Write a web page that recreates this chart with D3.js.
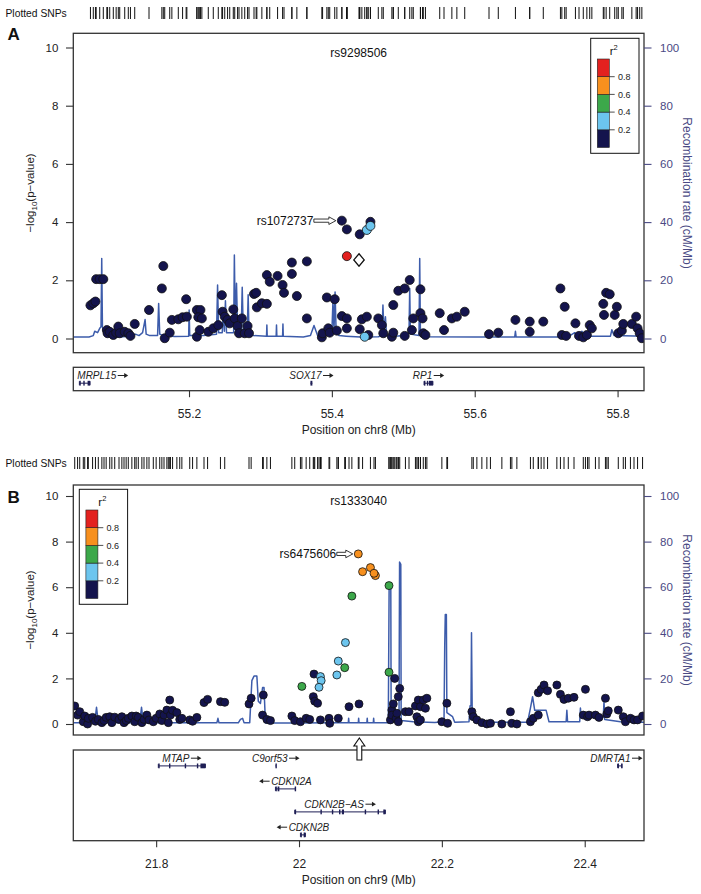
<!DOCTYPE html>
<html><head><meta charset="utf-8">
<script src="https://cdn.jsdelivr.net/npm/d3@7"></script>
<style>
body{margin:0;background:#fff;}
svg{display:block;}
</style></head><body>
<svg id="chart" width="701" height="894"></svg>
<script>
// ---------------- DATA ----------------
// r2 legend bins and colours
const r2Bins = [0.2, 0.4, 0.6, 0.8];
const r2Colors = ["#14144d", "#6cc5ee", "#3ca84a", "#f7901e", "#e3211f"];
const yTicks = [0, 2, 4, 6, 8, 10];
const recTicks = [0, 20, 40, 60, 80, 100];
const xTicksA = [55.2, 55.4, 55.6, 55.8];
const xTicksB = [21.8, 22.0, 22.2, 22.4];

// Panel A SNPs: [position (Mb), -log10 p, r2]
const snpsA = [
[55.062,1.14,.1],[55.066,1.21,.1],[55.069,1.27,.1],[55.070,2.04,.1],[55.075,2.04,.1],[55.080,2.04,.1],
[55.085,0.29,.1],[55.086,0.18,.1],[55.089,0.23,.1],[55.094,0.12,.1],[55.098,0.20,.1],[55.101,0.41,.1],[55.103,0.18,.1],[55.110,0.23,.1],[55.115,0.18,.1],[55.118,0.09,.1],[55.124,0.50,.1],
[55.144,0.98,.1],[55.162,1.72,.1],[55.164,2.49,.1],[55.166,0.01,.1],[55.173,0.20,.1],[55.176,0.64,.1],
[55.185,0.66,.1],[55.191,0.73,.1],[55.196,1.35,.1],[55.197,0.75,.1],
[55.211,0.06,.1],[55.211,0.98,.1],[55.216,0.98,.1],[55.213,0.73,.1],[55.218,0.69,.1],[55.215,0.29,.1],
[55.227,0.23,.1],[55.234,0.35,.1],[55.241,0.46,.1],[55.246,1.49,.1],[55.247,0.92,.1],[55.250,0.75,.1],[55.254,0.64,.1],[55.257,0.52,.1],[55.262,1.00,.1],[55.264,0.69,.1],[55.268,0.43,.1],[55.270,0.18,.1],[55.274,0.69,.1],[55.278,0.18,.1],[55.282,0.43,.1],[55.284,0.18,.1],
[55.291,1.53,.1],[55.294,1.57,.1],[55.295,1.07,.1],[55.302,1.21,.1],[55.309,1.19,.1],[55.309,2.18,.1],[55.313,1.95,.1],[55.324,2.15,.1],[55.331,1.84,.1],[55.333,1.57,.1],[55.344,2.61,.1],[55.344,2.22,.1],[55.351,1.46,.1],[55.365,2.65,.1],[55.365,0.69,.1],
[55.386,0.04,.1],[55.387,0.18,.1],[55.393,1.41,.1],[55.395,0.35,.1],[55.397,0.20,.1],[55.404,1.35,.1],[55.407,0.27,.1],[55.414,0.77,.1],[55.421,0.69,.1],[55.421,0.35,.1],
[55.414,4.05,.1],[55.421,3.75,.1],[55.421,2.83,.85],
[55.439,3.58,.1],[55.449,3.73,.3],[55.454,3.87,.3],[55.454,4.01,.1],
[55.442,0.66,.1],[55.449,0.75,.1],[55.439,0.32,.1],[55.446,0.06,.3],[55.451,0.12,.1],
[55.465,0.69,.1],[55.470,0.46,.1],[55.472,0.18,.1],[55.484,0.06,.1],[55.486,0.20,.1],[55.486,1.15,.1],[55.493,1.64,.1],[55.502,1.72,.1],[55.502,0.09,.1],[55.509,2.01,.1],[55.512,0.29,.1],[55.514,0.69,.1],[55.524,1.69,.1],[55.524,0.87,.1],[55.527,0.69,.1],[55.528,0.18,.1],[55.531,0.12,.1],
[55.551,0.87,.1],[55.557,0.29,.1],[55.568,0.69,.1],[55.575,0.75,.1],[55.586,0.92,.1],
[55.620,0.15,.1],[55.633,0.20,.1],[55.657,0.64,.1],[55.677,0.58,.1],[55.677,0.23,.1],[55.696,0.58,.1],
[55.720,1.72,.1],[55.726,1.09,.1],[55.722,0.12,.1],[55.728,0.09,.1],[55.741,0.52,.1],[55.746,0.09,.1],[55.752,0.04,.1],[55.757,0.12,.1],[55.761,0.46,.1],[55.764,0.35,.1],[55.780,1.19,.1],[55.781,0.81,.1],[55.784,1.57,.1],[55.789,1.52,.1],[55.796,0.81,.1],[55.799,1.09,.1],[55.801,0.18,.1],[55.806,0.27,.1],[55.808,0.50,.1],[55.820,0.50,.1],[55.826,0.75,.1],[55.828,0.35,.1],[55.831,0.18,.1],[55.834,0.01,.1]
];
// Recombination rate A: [position, cM/Mb]
const recombA = [
[55.038,0.5],[55.060,0.5],[55.066,1.0],[55.068,2.5],[55.072,2.0],[55.075,3.5],[55.0768,4.0],[55.0778,27.5],[55.0788,4.0],[55.081,1.5],[55.085,0.6],[55.100,0.5],[55.120,0.8],[55.125,1.5],[55.130,1.0],[55.135,2.0],[55.1385,6.5],[55.140,1.5],[55.145,1.0],[55.156,1.0],[55.1575,12.0],[55.159,1.5],[55.165,1.0],[55.180,0.7],[55.1995,0.8],[55.2002,9.8],[55.201,1.0],[55.220,1.0],[55.2385,1.5],[55.240,18.4],[55.2415,2.0],[55.2465,2.0],[55.248,10.0],[55.2495,2.5],[55.251,13.0],[55.2525,2.0],[55.2625,2.0],[55.2635,28.7],[55.2648,3.0],[55.2665,19.0],[55.268,3.0],[55.273,2.0],[55.2745,17.6],[55.276,2.0],[55.2815,2.0],[55.2828,15.0],[55.284,2.0],[55.290,1.0],[55.3085,0.8],[55.309,4.6],[55.3095,0.8],[55.322,0.8],[55.3225,4.6],[55.323,0.8],[55.331,0.8],[55.3315,5.0],[55.332,0.8],[55.360,0.5],[55.370,1.0],[55.375,4.5],[55.380,1.0],[55.390,0.8],[55.395,1.5],[55.400,2.0],[55.4015,12.7],[55.403,3.0],[55.4045,16.0],[55.406,2.0],[55.410,1.0],[55.420,0.8],[55.440,0.5],[55.465,0.6],[55.470,1.0],[55.4715,11.5],[55.473,2.0],[55.475,7.5],[55.4765,1.0],[55.480,0.7],[55.505,1.0],[55.508,2.0],[55.509,17.2],[55.510,1.5],[55.522,1.0],[55.523,27.5],[55.524,1.5],[55.530,0.6],[55.600,0.5],[55.656,0.5],[55.657,2.5],[55.658,0.5],[55.730,0.5],[55.740,2.0],[55.745,1.0],[55.750,2.5],[55.755,1.0],[55.760,0.8],[55.790,0.8],[55.792,3.0],[55.795,1.0],[55.837,0.8]
];
// Genes A: [name, start, end, strand, row, exons]
const genesA = [
["MRPL15",55.0465,55.0615,"+",0,[[55.0465,55.0475],[55.052,55.053],[55.058,55.0615]]],
["SOX17",55.3700,55.3727,"+",0,[[55.3700,55.3727]]],
["RP1",55.5290,55.5415,"+",0,[[55.529,55.5302],[55.533,55.5345],[55.536,55.5415]]]
];
const leadA = {name:"rs9298506", pos:55.438, logp:2.70};
const labelA = {name:"rs1072737", pos:55.414, logp:4.05};

// Panel B SNPs
const snpsB = [
[21.686,0.79,.1],[21.690,0.39,.1],[21.693,0.54,.1],[21.698,0.10,.1],[21.700,0.35,.1],[21.704,0.00,.1],[21.705,0.25,.1],[21.711,0.29,.1],[21.715,0.12,.1],[21.719,0.20,.1],[21.724,0.06,.1],[21.727,0.15,.1],[21.730,0.29,.1],[21.735,0.32,.1],[21.738,0.06,.1],[21.742,0.30,.1],[21.748,0.20,.1],[21.752,0.32,.1],[21.755,0.06,.1],[21.758,0.15,.1],[21.761,0.25,.1],[21.766,0.35,.1],[21.770,0.10,.1],[21.772,0.35,.1],[21.775,0.29,.1],[21.780,0.06,.1],[21.783,0.20,.1],[21.787,0.39,.1],[21.790,0.18,.1],[21.796,0.10,.1],[21.800,0.25,.1],[21.805,0.44,.1],[21.808,0.15,.1],[21.811,0.39,.1],[21.815,0.61,.1],[21.817,0.06,.1],[21.819,1.05,.1],[21.820,0.39,.1],[21.823,0.60,.1],[21.829,0.50,.1],[21.833,0.20,.1],[21.836,0.25,.1],[21.847,0.18,.1],[21.851,0.12,.1],[21.857,0.29,.1],[21.867,0.94,.1],[21.872,1.08,.1],[21.890,0.98,.1],[21.896,0.95,.1],
[21.930,0.88,.1],[21.933,1.13,.1],[21.949,0.39,.1],[21.950,1.27,.1],[21.955,0.20,.1],[21.960,0.15,.1],[21.990,0.35,.1],[21.994,0.15,.1],[22.002,0.10,.1],[22.010,0.25,.1],[22.015,0.20,.1],[22.020,1.20,.1],[22.021,2.19,.1],[22.022,1.00,.1],[22.026,0.91,.1],[22.030,0.18,.1],[22.042,0.25,.1],[22.043,0.03,.1],[22.055,0.25,.1],[22.070,0.76,.1],[22.084,0.88,.1],
[22.004,1.65,.5],[22.030,2.08,.3],[22.031,1.90,.3],[22.028,1.61,.3],[22.053,2.15,.3],[22.055,2.76,.3],[22.065,3.57,.3],[22.064,2.47,.5],[22.074,5.61,.5],[22.126,6.07,.5],[22.126,2.27,.5],
[22.083,7.46,.7],[22.089,6.68,.7],[22.100,6.86,.7],[22.105,6.61,.7],[22.107,6.51,.65],
[22.128,0.18,.1],[22.130,0.61,.1],[22.130,0.39,.1],[22.132,0.88,.1],[22.134,2.00,.1],[22.136,0.25,.1],[22.137,0.47,.1],[22.139,1.20,.1],[22.139,0.10,.1],[22.141,1.56,.1],
[22.149,0.54,.1],[22.154,0.54,.1],[22.163,0.79,.1],[22.165,0.32,.1],[22.167,1.05,.1],[22.167,0.10,.1],[22.170,0.76,.1],[22.170,0.18,.1],[22.174,1.05,.1],[22.177,0.69,.1],[22.179,1.13,.1],
[22.200,0.10,.1],[22.207,0.91,.1],[22.208,0.03,.1],
[22.242,0.54,.1],[22.244,0.32,.1],[22.249,0.18,.1],[22.256,0.06,.1],[22.263,0.00,.1],[22.268,0.03,.1],
[22.284,0.00,.1],[22.296,0.54,.1],[22.298,0.03,.1],[22.305,0.00,.1],
[22.324,0.10,.1],[22.328,0.25,.1],[22.335,0.39,.1],[22.335,1.37,.1],[22.339,1.52,.1],[22.343,1.71,.1],[22.348,1.46,.1],[22.361,1.71,.1],[22.366,1.30,.1],[22.371,1.08,.1],[22.377,1.13,.1],[22.385,1.17,.1],
[22.398,0.39,.1],[22.401,1.52,.1],[22.404,0.32,.1],[22.406,0.39,.1],[22.415,0.39,.1],[22.420,0.29,.1],
[22.429,1.13,.1],[22.431,0.44,.1],[22.433,0.58,.1],
[22.447,0.61,.1],[22.454,0.32,.1],[22.457,0.10,.1],[22.464,0.25,.1],[22.469,0.18,.1],[22.474,0.18,.1],[22.481,0.35,.1]
];
const recombB = [
[21.684,0.6],[21.714,0.6],[21.7165,7.3],[21.719,0.6],[21.777,0.6],[21.7795,7.3],[21.782,0.6],[21.800,0.5],[21.885,0.5],[21.8865,2.5],[21.888,0.5],[21.915,0.5],[21.918,2.0],[21.921,2.5],[21.923,0.6],[21.931,0.6],[21.934,19],[21.937,21],[21.941,21],[21.943,10],[21.946,9],[21.949,16],[21.951,16],[21.953,0.4],[21.990,0.4],[22.050,0.5],[22.069,0.5],[22.0695,2.5],[22.070,0.5],[22.083,0.5],[22.0835,2.5],[22.084,0.5],[22.095,0.5],[22.0955,2.5],[22.096,0.5],[22.104,0.5],[22.1045,2.5],[22.105,0.5],[22.125,0.6],[22.1262,62],[22.1285,61],[22.129,1.0],[22.140,1.0],[22.1408,71],[22.1425,70],[22.143,1.5],[22.160,1.0],[22.190,0.7],[22.203,1.0],[22.204,34],[22.2048,48],[22.2063,48],[22.207,5],[22.215,3.2],[22.218,0.8],[22.238,1.0],[22.2395,8],[22.2408,8],[22.2415,40],[22.2425,5],[22.248,3],[22.250,0.8],[22.320,0.8],[22.324,7],[22.327,12],[22.330,6],[22.346,6],[22.350,1.0],[22.374,1.0],[22.375,6],[22.376,1.0],[22.393,1.0],[22.394,7],[22.395,3],[22.420,3],[22.426,3],[22.427,10],[22.428,2],[22.450,1.0],[22.483,0.8]
];
const genesB = [
["MTAP",21.803,21.869,"+",0,[[21.803,21.8035],[21.818,21.8195],[21.840,21.841],[21.857,21.858],[21.862,21.869]]],
["C9orf53",21.967,21.968,"+",0,[[21.967,21.968]]],
["DMRTA1",22.446,22.452,"+",0,[[22.446,22.447],[22.451,22.452]]],
["CDKN2A",21.967,21.995,"-",1,[[21.967,21.9685],[21.970,21.9725],[21.994,21.995]]],
["CDKN2B\u2212AS",21.994,22.121,"+",2,[[21.994,21.995],[22.030,22.031],[22.046,22.047],[22.056,22.058],[22.060,22.063],[22.092,22.093],[22.110,22.111],[22.118,22.121]]],
["CDKN2B",22.002,22.009,"-",3,[[22.002,22.004],[22.0065,22.009]]]
];
const leadB = {name:"rs1333040", pos:22.0845, logp:null};
const labelB = {name:"rs6475606", pos:22.083, logp:7.46};

// ---------------- DRAWING ----------------
const FONT = '"Liberation Sans", Arial, Helvetica, sans-serif';
const REC = "#3d5cab";
const RAX = "#4a4a84";
const svg = d3.select("#chart").attr("font-family", FONT);
const defs = svg.append("defs");
const r2Color = d3.scaleThreshold().domain(r2Bins).range(r2Colors);

const panels = [
 {letter:"A", chr:"chr8", snps:snpsA, recomb:recombA, genes:genesA, lead:leadA, label:labelA,
  domainX:[55.038,55.837], ticksX:xTicksA,
  geo:{left:73.3,right:644,top:33.3,bottom:352.7,y0:338.5,y10:47.5,geneTop:367.3,geneBottom:390.7,
       rugTop:7,rugBottom:19,letterBase:40,legendX:590.7,legendY:38.3,r:4.5,arrowLen:22,titleBase:57}},
 {letter:"B", chr:"chr9", snps:snpsB, recomb:recombB, genes:genesB, lead:leadB, label:labelB,
  domainX:[21.684,22.483], ticksX:xTicksB,
  geo:{left:73.3,right:644,top:485,bottom:735,y0:724,y10:496,geneTop:750,geneBottom:840.7,
       rugTop:457,rugBottom:469,letterBase:503,legendX:79.3,legendY:489.3,r:4,arrowLen:16,titleBase:505}}
];

function hollowArrowH(x0, x1, yc){
  return `M${x0},${yc-1.6}L${x1-7},${yc-1.6}L${x1-7},${yc-3.8}L${x1},${yc}L${x1-7},${yc+3.8}L${x1-7},${yc+1.6}L${x0},${yc+1.6}Z`;
}
function hollowArrowUp(xc, tip){
  return `M${xc},${tip}L${xc+5.5},${tip+8}L${xc+2.4},${tip+8}L${xc+2.4},${tip+22}L${xc-2.4},${tip+22}L${xc-2.4},${tip+8}L${xc-5.5},${tip+8}Z`;
}

function drawLegend(parent, lx, ly){
  const gL = parent.append("g");
  gL.append("rect").attr("x",lx).attr("y",ly).attr("width",48.3).attr("height",115)
    .attr("fill","#fff").attr("stroke","#111").attr("stroke-width",1);
  const t = gL.append("text").attr("x",lx+23).attr("y",ly+16.5).attr("text-anchor","middle")
    .attr("font-size",11.5).attr("fill","#111");
  t.append("tspan").text("r");
  t.append("tspan").attr("dy",-5).attr("font-size",7.5).text("2");
  const bh = 17.7;
  r2Colors.forEach((c,i)=>{
    gL.append("rect").attr("x",lx+6.6).attr("y",ly+20.7+(4-i)*bh).attr("width",12).attr("height",bh)
      .attr("fill",c).attr("stroke","#222").attr("stroke-width",0.6);
  });
  r2Bins.forEach((b,i)=>{
    const yy = ly+20.7+(4-i)*bh;
    gL.append("line").attr("x1",lx+18.6).attr("x2",lx+24).attr("y1",yy).attr("y2",yy)
      .attr("stroke","#222").attr("stroke-width",0.8);
    gL.append("text").attr("x",lx+27.3).attr("y",yy+3.2).attr("font-size",9).attr("fill","#222").text(b.toFixed(1));
  });
}

function drawPanel(p){
  const g = p.geo;
  const x = d3.scaleLinear().domain(p.domainX).range([g.left,g.right]);
  const y = d3.scaleLinear().domain([0,10]).range([g.y0,g.y10]);
  const yr = d3.scaleLinear().domain([0,100]).range([g.y0,g.y10]);
  const root = svg.append("g");

  // Plotted SNPs rug
  root.append("text").attr("x",5.5).attr("y",g.rugBottom-2.5).attr("font-size",10.3).attr("fill","#111").text("Plotted SNPs");
  const rugPos = p.snps.map(d=>d[0]).concat(p.lead.logp!=null?[p.lead.pos]:[]);
  root.append("g").selectAll("line").data(rugPos).join("line")
    .attr("x1",d=>x(d)).attr("x2",d=>x(d)).attr("y1",g.rugTop).attr("y2",g.rugBottom)
    .attr("stroke","#111").attr("stroke-width",1);

  // Panel letter
  root.append("text").attr("x",7.5).attr("y",g.letterBase).attr("font-size",17).attr("font-weight","bold").attr("fill","#111").text(p.letter);

  // clip
  const cid = "clip"+p.letter;
  defs.append("clipPath").attr("id",cid).append("rect")
    .attr("x",g.left).attr("y",g.top).attr("width",g.right-g.left).attr("height",g.bottom-g.top);
  const plot = root.append("g").attr("clip-path",`url(#${cid})`);

  // recombination line
  const line = d3.line().x(d=>x(d[0])).y(d=>yr(d[1]));
  plot.append("path").datum(p.recomb).attr("d",line).attr("fill","none")
    .attr("stroke",REC).attr("stroke-width",1.5).attr("stroke-linejoin","round");

  // points, sorted by r2 so higher LD on top
  const sorted = p.snps.slice().sort((a,b)=>a[2]-b[2]);
  plot.append("g").selectAll("circle").data(sorted).join("circle")
    .attr("cx",d=>x(d[0])).attr("cy",d=>y(d[1])).attr("r",g.r)
    .attr("fill",d=>r2Color(d[2])).attr("stroke","#111").attr("stroke-width",0.8);

  // lead SNP diamond
  if(p.lead.logp!=null){
    const lx = x(p.lead.pos), ly = y(p.lead.logp);
    plot.append("path").attr("d",`M${lx},${ly-6.2}L${lx+5.2},${ly}L${lx},${ly+6.2}L${lx-5.2},${ly}Z`)
      .attr("fill","#fff").attr("stroke","#111").attr("stroke-width",1.3);
  }

  // title
  root.append("text").attr("x",(g.left+g.right)/2).attr("y",g.titleBase).attr("text-anchor","middle")
    .attr("font-size",12).attr("fill","#111").text(p.lead.name);

  // labelled SNP with hollow arrow
  const sx = x(p.label.pos), sy = y(p.label.logp);
  const ax1 = sx - g.r - 1.5, ax0 = ax1 - g.arrowLen;
  root.append("path").attr("d",hollowArrowH(ax0,ax1,sy)).attr("fill","#fff").attr("stroke","#222").attr("stroke-width",0.9);
  root.append("text").attr("x",ax0-0.5).attr("y",sy+4.2).attr("text-anchor","end")
    .attr("font-size",12).attr("fill","#111").text(p.label.name);

  // frame
  root.append("rect").attr("x",g.left).attr("y",g.top).attr("width",g.right-g.left).attr("height",g.bottom-g.top)
    .attr("fill","none").attr("stroke","#333").attr("stroke-width",1.3);

  // left axis
  const ay = root.append("g").attr("transform",`translate(${g.left},0)`)
    .call(d3.axisLeft(y).tickValues(yTicks).tickSize(7.3).tickPadding(7.7));
  ay.select(".domain").remove();
  ay.selectAll("line").attr("stroke","#333").attr("stroke-width",1.1);
  ay.selectAll("text").attr("font-size",11.5).attr("font-family",FONT).attr("fill","#222");

  // right axis
  const ar = root.append("g").attr("transform",`translate(${g.right},0)`)
    .call(d3.axisRight(yr).tickValues(recTicks).tickSize(7.5).tickPadding(8.5));
  ar.select(".domain").remove();
  ar.selectAll("line").attr("stroke",RAX).attr("stroke-width",1.1);
  ar.selectAll("text").attr("font-size",11.5).attr("font-family",FONT).attr("fill",RAX);

  // axis titles
  const cy = (g.top+g.bottom)/2;
  const lt = root.append("text").attr("transform",`translate(33.5,${cy}) rotate(-90)`)
    .attr("text-anchor","middle").attr("font-size",11.5).attr("fill","#222");
  lt.append("tspan").text("\u2212log");
  lt.append("tspan").attr("font-size",8).attr("dy",3).text("10");
  lt.append("tspan").attr("dy",-3).text("(p\u2212value)");
  root.append("text").attr("transform",`translate(682.5,${cy}) rotate(90)`)
    .attr("text-anchor","middle").attr("font-size",12).attr("fill",RAX).text("Recombination rate (cM/Mb)");

  // legend
  drawLegend(root, g.legendX, g.legendY);

  // gene track
  root.append("rect").attr("x",g.left).attr("y",g.geneTop).attr("width",g.right-g.left).attr("height",g.geneBottom-g.geneTop)
    .attr("fill","#fff").attr("stroke","#333").attr("stroke-width",1.3);
  const GC = "#1e1e55";
  p.genes.forEach(gn=>{
    const [name,start,end,strand,row,exons] = gn;
    const labY = g.geneTop + 8.2 + row*23;
    const geneY = g.geneTop + 15.9 + row*23;
    const gg = root.append("g");
    const xs = x(start), xe = x(end);
    gg.append("line").attr("x1",xs).attr("x2",Math.max(xe,xs+0.5)).attr("y1",geneY).attr("y2",geneY).attr("stroke",GC).attr("stroke-width",1);
    if(xe-xs>4){
      [xs,xe].forEach(v=>gg.append("line").attr("x1",v).attr("x2",v).attr("y1",geneY-2).attr("y2",geneY+2).attr("stroke",GC).attr("stroke-width",0.9));
    }
    exons.forEach(e=>{
      const a = x(e[0]), b = x(e[1]);
      gg.append("rect").attr("x",a).attr("y",geneY-2.4).attr("width",Math.max(1.4,b-a)).attr("height",4.8).attr("fill",GC);
    });
    // label with arrow
    const t = gg.append("text").attr("font-size",10).attr("font-style","italic").attr("fill","#222").text(name);
    const tw = t.node().getComputedTextLength();
    const total = tw + 12;
    let left = (xs+xe)/2 - total/2;
    left = Math.max(g.left+4, Math.min(g.right-1.5-total, left));
    const by = labY + 3.5;
    let arrowX0, arrowX1;
    if(strand==="+"){
      t.attr("x",left).attr("y",by);
      arrowX0 = left+tw+1.5; arrowX1 = left+total;
      gg.append("line").attr("x1",arrowX0).attr("x2",arrowX1-3).attr("y1",labY).attr("y2",labY).attr("stroke","#222").attr("stroke-width",1);
      gg.append("path").attr("d",`M${arrowX1},${labY}L${arrowX1-4},${labY-2.4}L${arrowX1-4},${labY+2.4}Z`).attr("fill","#222");
    } else {
      t.attr("x",left+12).attr("y",by);
      arrowX0 = left; arrowX1 = left+10.5;
      gg.append("line").attr("x1",arrowX0+3).attr("x2",arrowX1).attr("y1",labY).attr("y2",labY).attr("stroke","#222").attr("stroke-width",1);
      gg.append("path").attr("d",`M${arrowX0},${labY}L${arrowX0+4},${labY-2.4}L${arrowX0+4},${labY+2.4}Z`).attr("fill","#222");
    }
  });

  // lead SNP marker arrow when the lead is not plotted
  if(p.lead.logp==null){
    root.append("path").attr("d",hollowArrowUp(x(p.lead.pos), g.geneTop-12))
      .attr("fill","#fff").attr("stroke","#111").attr("stroke-width",1.1);
  }

  // bottom axis
  const ab = root.append("g").attr("transform",`translate(0,${g.geneBottom})`)
    .call(d3.axisBottom(x).tickValues(p.ticksX).tickFormat(d3.format("~g")).tickSize(6.5).tickPadding(12.3));
  ab.select(".domain").remove();
  ab.selectAll("line").attr("stroke","#333").attr("stroke-width",1.1);
  ab.selectAll("text").attr("font-size",12).attr("font-family",FONT).attr("fill","#222");
  root.append("text").attr("x",(g.left+g.right)/2).attr("y",g.geneBottom+43.3).attr("text-anchor","middle")
    .attr("font-size",12).attr("fill","#222").text(`Position on ${p.chr} (Mb)`);
}

panels.forEach(drawPanel);
</script>
</body></html>
